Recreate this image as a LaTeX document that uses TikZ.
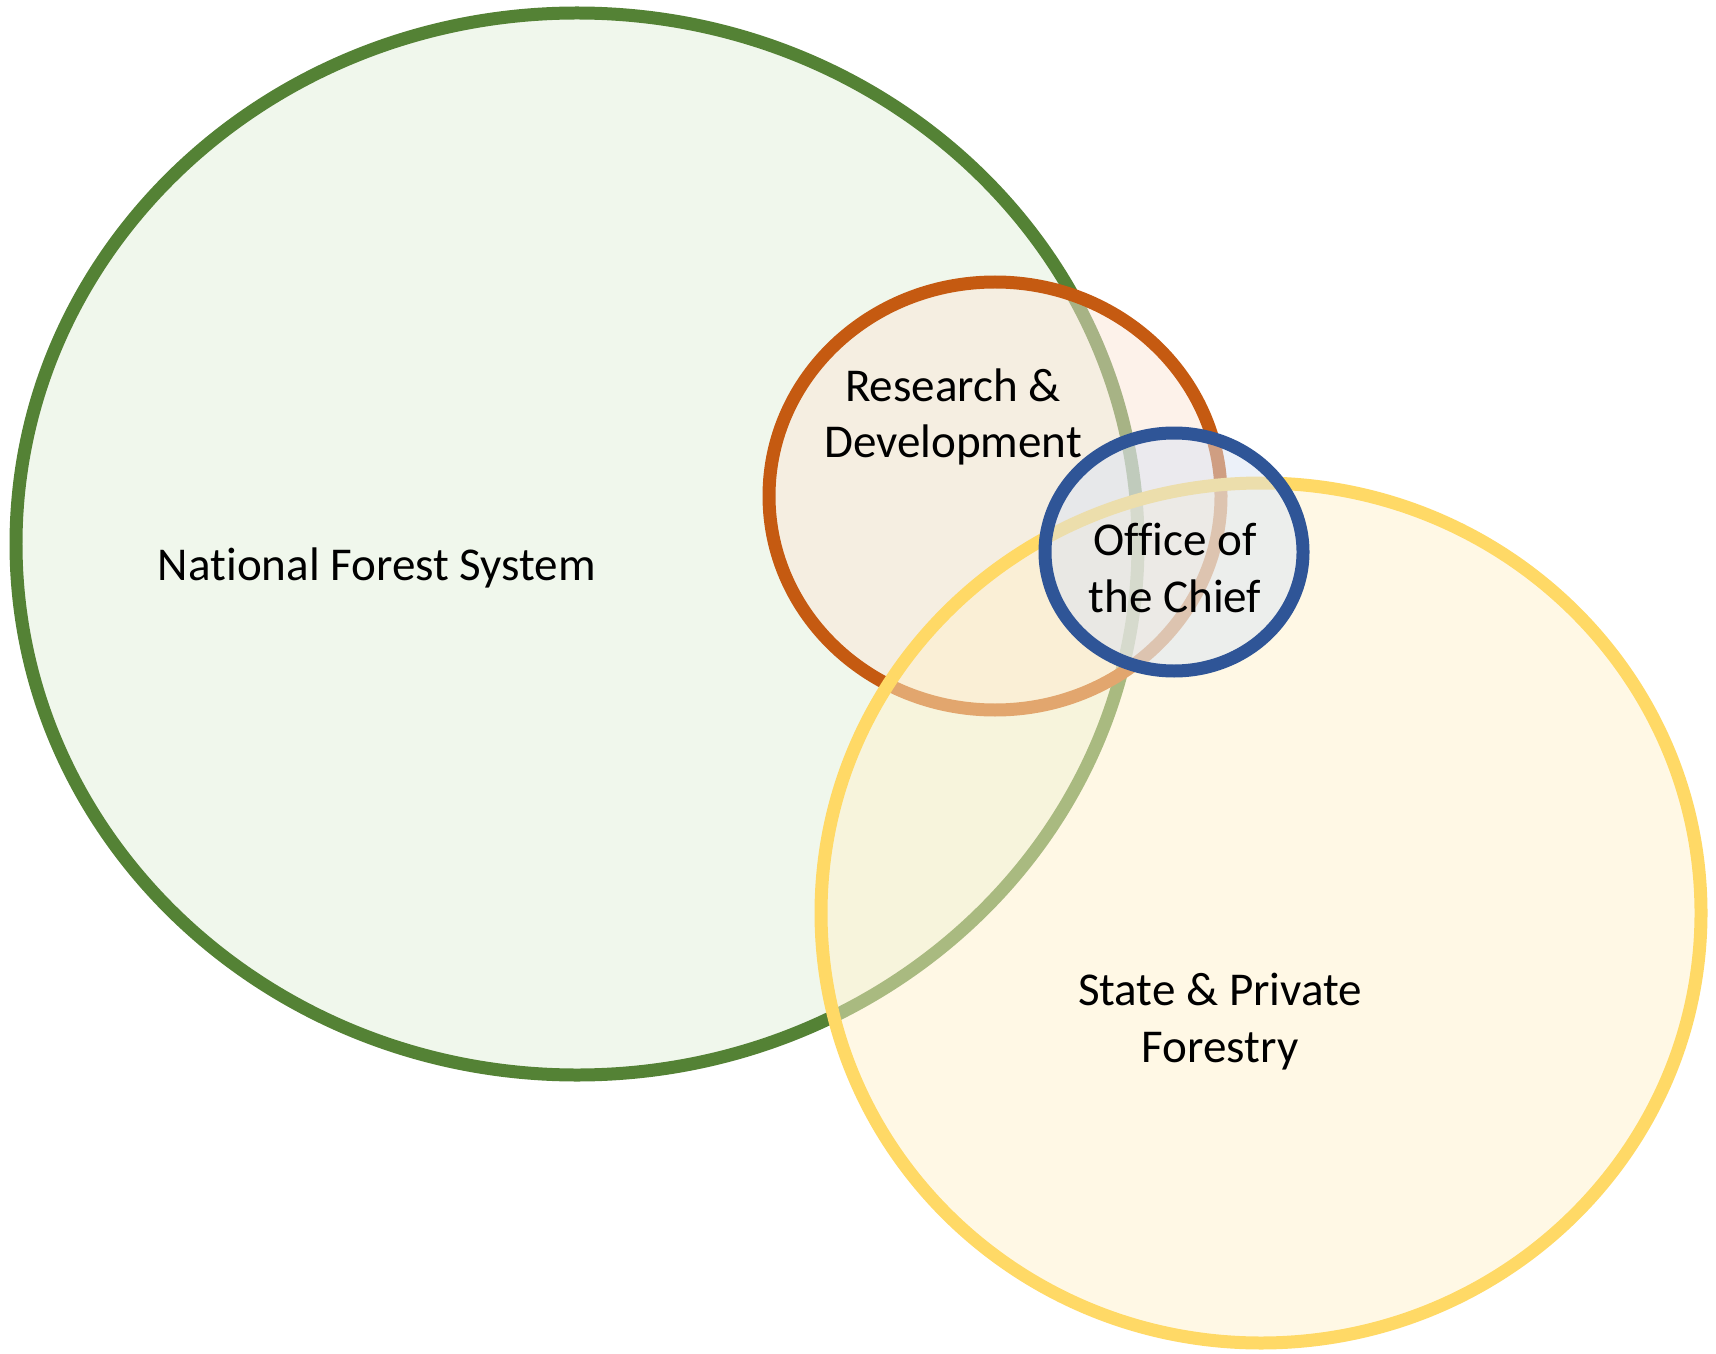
\documentclass[tikz,border=0pt]{standalone}
\usepackage{fontspec}
\setmainfont{Carlito}[Ligatures=NoCommon]
\usepackage{tikz}
\usetikzlibrary{positioning}

\definecolor{nfsline}{HTML}{548235}
\definecolor{nfsfill}{HTML}{E2EFDA}
\definecolor{rdline}{HTML}{C55A11}
\definecolor{rdfill}{HTML}{FBE5D6}
\definecolor{spfline}{HTML}{FFD966}
\definecolor{spffill}{HTML}{FFF2CC}
\definecolor{ocline}{HTML}{2F5597}
\definecolor{ocfill}{HTML}{DAE3F3}

\begin{document}
\begin{tikzpicture}[
        x=0.02cm, y=-0.02cm,
        every node/.style={font=\fontsize{26.8}{32.4}\selectfont},
        area/.style={line width=0.26cm, fill opacity=0.5},
        setlabel/.style={align=center, anchor=base, inner sep=0pt}
    ]
        \useasboundingbox (0,0) rectangle (1716,1354);
        % the four areas, back to front
        \draw[area, draw=nfsline, fill=nfsfill] (577,544) ellipse [x radius=561, y radius=531];
        \draw[area, draw=rdline, fill=rdfill] (995,496) ellipse [x radius=226, y radius=214];
        \draw[area, draw=spfline, fill=spffill] (1261,913) ellipse [x radius=440, y radius=430];
        \draw[area, draw=ocline, fill=ocfill] (1174,552) ellipse [x radius=129, y radius=119];
        % labels (base = last line)
        \node[setlabel] (nfs) at (377,580) {National Forest System};
        \node[setlabel] (rd) at (953,458) {Research \&\\Development};
        \node[setlabel] (oc) at (1175,612) {Office of\\the Chief};
        \node[setlabel] (spf) at (1220,1062) {State \& Private\\Forestry};
    \end{tikzpicture}
\end{document}
